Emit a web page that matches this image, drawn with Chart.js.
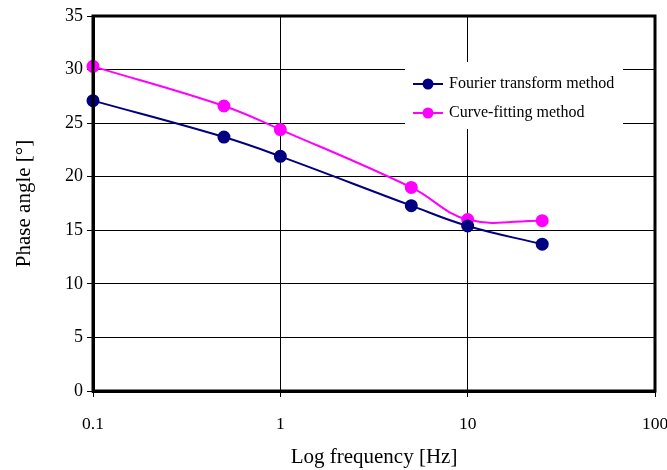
<!DOCTYPE html>
<html>
<head>
<meta charset="utf-8">
<script src="https://cdn.jsdelivr.net/npm/chart.js@4/dist/chart.umd.min.js"></script>
<style>
  html, body { margin: 0; padding: 0; background: #fff; }
  #wrap { width: 667px; height: 470px; }
</style>
</head>
<body>
<div id="wrap"><canvas id="phaseChart" width="667" height="470"></canvas></div>
<script>
const frequencies = [0.1, 0.5, 1, 5, 10, 25];
const fourierPhase = [27.1, 23.7, 21.9, 17.3, 15.4, 13.7];
const curveFitPhase = [30.3, 26.6, 24.4, 19.0, 16.0, 15.9];
const xTicks = [0.1, 1, 10, 100];
const seriesNames = ['Fourier transform method', 'Curve-fitting method'];

const serif = 'Liberation Serif, Times New Roman, serif';

function toPoints(ys) {
    return frequencies.map((f, i) => ({ x: f, y: ys[i] }));
}

// legend drawn inside the plot area, white box without border
const boxLegend = {
    id: 'boxLegend',
    afterDatasetsDraw(chart) {
        const ctx = chart.ctx;
        ctx.save();
        ctx.fillStyle = '#fff';
        ctx.fillRect(405, 62, 218, 67);
        ctx.font = '16px ' + serif;
        ctx.textBaseline = 'middle';
        chart.data.datasets.forEach((ds, i) => {
            const y = 84 + i * 29;
            ctx.strokeStyle = ds.borderColor;
            ctx.lineWidth = 2;
            ctx.beginPath();
            ctx.moveTo(413, y);
            ctx.lineTo(443, y);
            ctx.stroke();
            ctx.fillStyle = ds.borderColor;
            ctx.beginPath();
            ctx.arc(428, y, 5.5, 0, Math.PI * 2);
            ctx.fill();
            ctx.fillStyle = '#000';
            ctx.fillText(ds.label, 449, y);
        });
        ctx.restore();
    },
    afterDraw(chart) {
        const a = chart.chartArea;
        const ctx = chart.ctx;
        ctx.save();
        ctx.strokeStyle = '#000';
        ctx.lineWidth = 3;
        ctx.strokeRect(a.left, a.top, a.right - a.left, a.bottom - a.top);
        ctx.restore();
    }
};

new Chart(document.getElementById('phaseChart').getContext('2d'), {
    type: 'line',
    data: {
        datasets: [{
            label: seriesNames[0],
            data: toPoints(fourierPhase),
            borderColor: '#000080',
            backgroundColor: '#000080',
            borderWidth: 2,
            pointRadius: 5.5,
            pointHoverRadius: 5.5,
            tension: 0.4,
            clip: false
        }, {
            label: seriesNames[1],
            data: toPoints(curveFitPhase),
            borderColor: '#ff00ff',
            backgroundColor: '#ff00ff',
            borderWidth: 2,
            pointRadius: 5.5,
            pointHoverRadius: 5.5,
            tension: 0.4,
            clip: false
        }]
    },
    options: {
        responsive: false,
        animation: false,
        layout: { padding: { left: 12, right: 12, top: 16, bottom: 0 } },
        plugins: {
            legend: { display: false },
            tooltip: { enabled: false }
        },
        scales: {
            x: {
                type: 'logarithmic',
                min: 0.1,
                max: 100,
                afterBuildTicks(scale) {
                    scale.ticks = xTicks.map(v => ({ value: v }));
                },
                afterFit(scale) {
                    scale.height = 79;
                    scale.paddingLeft = 0;
                    scale.paddingRight = 0;
                },
                ticks: {
                    color: '#000',
                    font: { family: serif, size: 17.5 },
                    padding: 17,
                    maxRotation: 0,
                    callback: v => String(v)
                },
                grid: { color: '#000', lineWidth: 1, tickLength: 6 },
                border: { color: '#000', width: 3 },
                title: {
                    display: true,
                    text: 'Log frequency [Hz]',
                    color: '#000',
                    font: { family: serif, size: 21 },
                    padding: { top: 0, bottom: 0 }
                }
            },
            y: {
                min: 0,
                max: 35,
                afterFit(scale) { scale.width = 81; },
                ticks: {
                    stepSize: 5,
                    color: '#000',
                    font: { family: serif, size: 18 },
                    padding: 4
                },
                grid: { color: '#000', lineWidth: 1, tickLength: 6 },
                border: { color: '#000', width: 3 },
                title: {
                    display: true,
                    text: 'Phase angle [°]',
                    color: '#000',
                    font: { family: serif, size: 21 },
                    padding: { top: 0, bottom: 4 }
                }
            }
        }
    },
    plugins: [boxLegend]
});
</script>
</body>
</html>
